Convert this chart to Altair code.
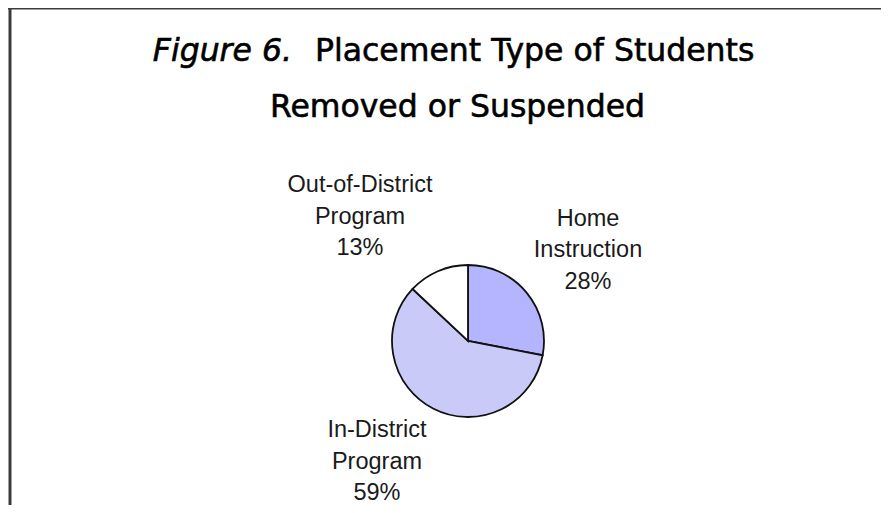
import altair as alt
import pandas as pd

# ---- data ----
categories = ["Home Instruction", "In-District Program", "Out-of-District Program"]
label_lines = ["Home\nInstruction", "In-District\nProgram", "Out-of-District\nProgram"]
values = [28, 59, 13]
order_idx = [0, 1, 2]
colors = ["#b4b4ff", "#cacaf9", "#ffffff"]
title_parts = ["Figure 6.", "Placement Type of Students", "Removed or Suspended"]

df = pd.DataFrame({
    "category": categories,
    "value": values,
    "idx": order_idx,
    "label": [f"{l}\n{v}%" for l, v in zip(label_lines, values)],
})

W, H = 873, 497
CX, CY, R = 460, 333, 76

base = alt.Chart(df)

pie = base.mark_arc(outerRadius=R, stroke="#111111", strokeWidth=1.8).encode(
    theta=alt.Theta("value:Q", stack=True),
    order=alt.Order("idx:Q"),
    color=alt.Color("category:N", scale=alt.Scale(domain=categories, range=colors), legend=None),
    x=alt.value(CX),
    y=alt.value(CY),
)

label_pos = {
    "Home Instruction": (580, 217.5),
    "In-District Program": (369, 429),
    "Out-of-District Program": (352, 184),
}
label_layers = []
for cat in categories:
    lx, ly = label_pos[cat]
    label_layers.append(
        base.transform_filter(alt.datum.category == cat).mark_text(
            lineBreak="\n", lineHeight=31.5, fontSize=23.5, font="Liberation Sans",
            align="center", baseline="alphabetic", color="#1a1a1a",
        ).encode(text="label:N", x=alt.value(lx), y=alt.value(ly))
    )

tdf = pd.DataFrame({"t": title_parts})
tbase = alt.Chart(tdf)
tstyle = dict(font="DejaVu Sans", fontSize=31.5, baseline="alphabetic",
              color="#000000", stroke="#000000", strokeWidth=0.6)
t1 = tbase.transform_filter(alt.datum.t == title_parts[0]).mark_text(
    fontStyle="italic", align="right", **tstyle
).encode(text="t:N", x=alt.value(284), y=alt.value(53))
t2 = tbase.transform_filter(alt.datum.t == title_parts[1]).mark_text(
    align="left", **tstyle
).encode(text="t:N", x=alt.value(307), y=alt.value(53))
t3 = tbase.transform_filter(alt.datum.t == title_parts[2]).mark_text(
    align="center", **tstyle
).encode(text="t:N", x=alt.value(449.5), y=alt.value(109))

bdf = pd.DataFrame({"a": [0]})
left_border = alt.Chart(bdf).mark_rule(color="#3c3c3c", strokeWidth=3).encode(
    x=alt.value(2), y=alt.value(0), y2=alt.value(H)
)
top_border = alt.Chart(bdf).mark_rule(color="#3c3c3c", strokeWidth=3).encode(
    x=alt.value(0), x2=alt.value(W), y=alt.value(0)
)

chart = alt.layer(pie, *label_layers, t1, t2, t3, left_border, top_border).properties(
    width=W, height=H, autosize="none", padding=0, background="white"
).configure_view(stroke=None)

chart.save("out.html", embed_options={"renderer": "svg", "actions": False})
